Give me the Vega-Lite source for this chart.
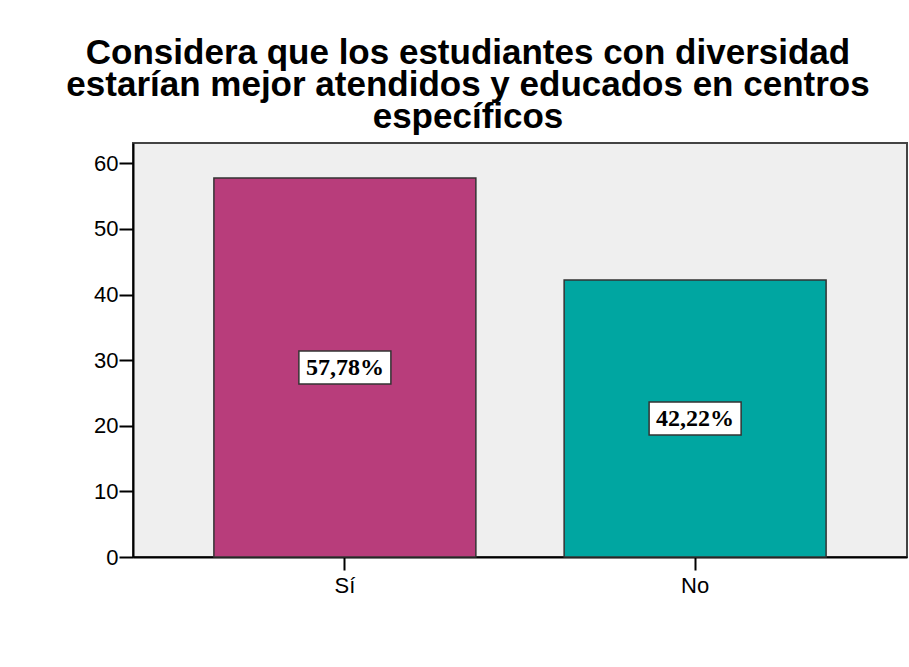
{
  "$schema": "https://vega.github.io/schema/vega-lite/v6.json",
  "width": 774,
  "height": 414,
  "autosize": "none",
  "padding": {"left": 133, "top": 143, "right": 2, "bottom": 110},
  "background": "white",
  "title": {
    "text": ["Considera que los estudiantes con diversidad", "estarían mejor atendidos y educados en centros", "específicos"],
    "font": "Liberation Sans",
    "fontSize": 35,
    "fontWeight": "bold",
    "color": "black",
    "lineHeight": 32,
    "anchor": "middle",
    "dx": -52,
    "offset": -27,
    "baseline": "bottom"
  },
  "data": {
    "values": [
      {"cat": "Sí", "pct": 57.78, "label": "57,78%"},
      {"cat": "No", "pct": 42.22, "label": "42,22%"}
    ]
  },
  "config": {
    "view": {"fill": "#efefef", "stroke": "#444444", "strokeWidth": 2}
  },
  "layer": [
    {
      "mark": {"type": "bar", "stroke": "#333333", "strokeWidth": 1.5},
      "encoding": {
        "x": {
          "field": "cat", "type": "nominal", "sort": ["Sí", "No"],
          "scale": {"paddingInner": 0.252, "paddingOuter": 0.231},
          "axis": {"title": null, "labelAngle": 0, "labelFont": "Liberation Sans", "labelFontSize": 22, "labelColor": "black", "tickSize": 13, "tickColor": "black", "tickWidth": 2, "domainColor": "black", "domainWidth": 2, "labelPadding": 5}
        },
        "y": {
          "field": "pct", "type": "quantitative",
          "scale": {"domain": [0, 63.1], "nice": false},
          "axis": {"title": null, "values": [0, 10, 20, 30, 40, 50, 60], "grid": false, "labelFont": "Liberation Sans", "labelFontSize": 22, "labelColor": "black", "tickSize": 14, "tickColor": "black", "tickWidth": 2, "domainColor": "black", "domainWidth": 2, "labelPadding": 1}
        },
        "color": {
          "field": "cat", "type": "nominal",
          "scale": {"domain": ["Sí", "No"], "range": ["#B83D7B", "#00A6A1"]},
          "legend": null
        }
      }
    },
    {
      "encoding": {
        "x": {"field": "cat", "type": "nominal", "sort": ["Sí", "No"]},
        "y": {"field": "pct", "type": "quantitative", "scale": {"domain": [0, 126.2], "nice": false}, "axis": null}
      },
      "layer": [
        {
          "mark": {"type": "point", "shape": "M-1,-0.359H1V0.359H-1Z", "filled": true, "fill": "white", "stroke": "#333333", "strokeWidth": 1.5, "opacity": 1, "size": 8464}
        },
        {
          "mark": {"type": "text", "font": "Liberation Serif", "fontWeight": "bold", "fontSize": 24, "color": "black", "baseline": "middle", "align": "center", "dy": 1},
          "encoding": {"text": {"field": "label", "type": "nominal"}}
        }
      ]
    }
  ],
  "resolve": {"scale": {"y": "independent"}}
}
